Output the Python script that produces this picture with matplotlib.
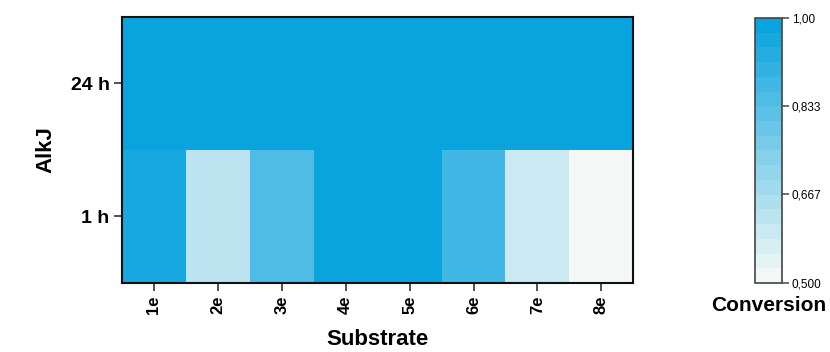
import numpy as np
import matplotlib
matplotlib.use("Agg")
import matplotlib.pyplot as plt
from matplotlib.colors import LinearSegmentedColormap, ListedColormap, Normalize

plt.rcParams['font.family'] = ['Liberation Sans', 'DejaVu Sans']

substrates = ["1e", "2e", "3e", "4e", "5e", "6e", "7e", "8e"]
times = ["1 h", "24 h"]
conv_1h = [0.96, 0.62, 0.85, 1.00, 1.00, 0.88, 0.60, 0.50]
conv_24h = [1.00, 1.00, 1.00, 1.00, 1.00, 1.00, 1.00, 1.00]
cbar_ticks = [0.500, 0.667, 0.833, 1.00]
cbar_labels = ["0,500", "0,667", "0,833", "1,00"]

data = np.array([conv_1h, conv_24h])

base = LinearSegmentedColormap.from_list("conv", ["#f3f8f6", "#09a3de"])
cmap = ListedColormap(base(np.linspace(0, 1, 18)))
norm = Normalize(vmin=0.5, vmax=1.0)

fig = plt.figure(figsize=(8.3, 3.52), dpi=100)
ax = fig.add_axes([0.147, 0.196, 0.616, 0.756])
mesh = ax.pcolormesh(np.arange(len(substrates) + 1), np.arange(len(times) + 1),
                     data, cmap=cmap, norm=norm, shading="flat")
ax.set_xlim(0, len(substrates))
ax.set_ylim(0, len(times))
ax.set_xticks(np.arange(len(substrates)) + 0.5)
ax.set_xticklabels(substrates, rotation=90, fontsize=12, fontweight="bold")
ax.set_yticks(np.arange(len(times)) + 0.5)
ax.set_yticklabels(times, fontsize=14, fontweight="bold")
ax.tick_params(axis="both", length=6, width=1.2, color="#333333", pad=3)
for sp in ax.spines.values():
    sp.set_linewidth(1.5)
    sp.set_color("#111111")
ax.set_xlabel("Substrate", fontsize=16, fontweight="bold", labelpad=11)
ax.set_ylabel("AlkJ", fontsize=16, fontweight="bold", labelpad=10)

cax = fig.add_axes([0.9096, 0.196, 0.0325, 0.753])
cb = fig.colorbar(mesh, cax=cax)
cb.set_ticks(cbar_ticks)
cb.set_ticklabels(cbar_labels)
cb.ax.tick_params(labelsize=8.5, length=5, width=1.2, color="#555555", pad=2)
cb.outline.set_linewidth(1.2)
cb.outline.set_edgecolor("#444444")
fig.text(0.9258, 0.132, "Conversion", ha="center", va="center",
         fontsize=15, fontweight="bold")

fig.savefig("out.png", dpi=100)
